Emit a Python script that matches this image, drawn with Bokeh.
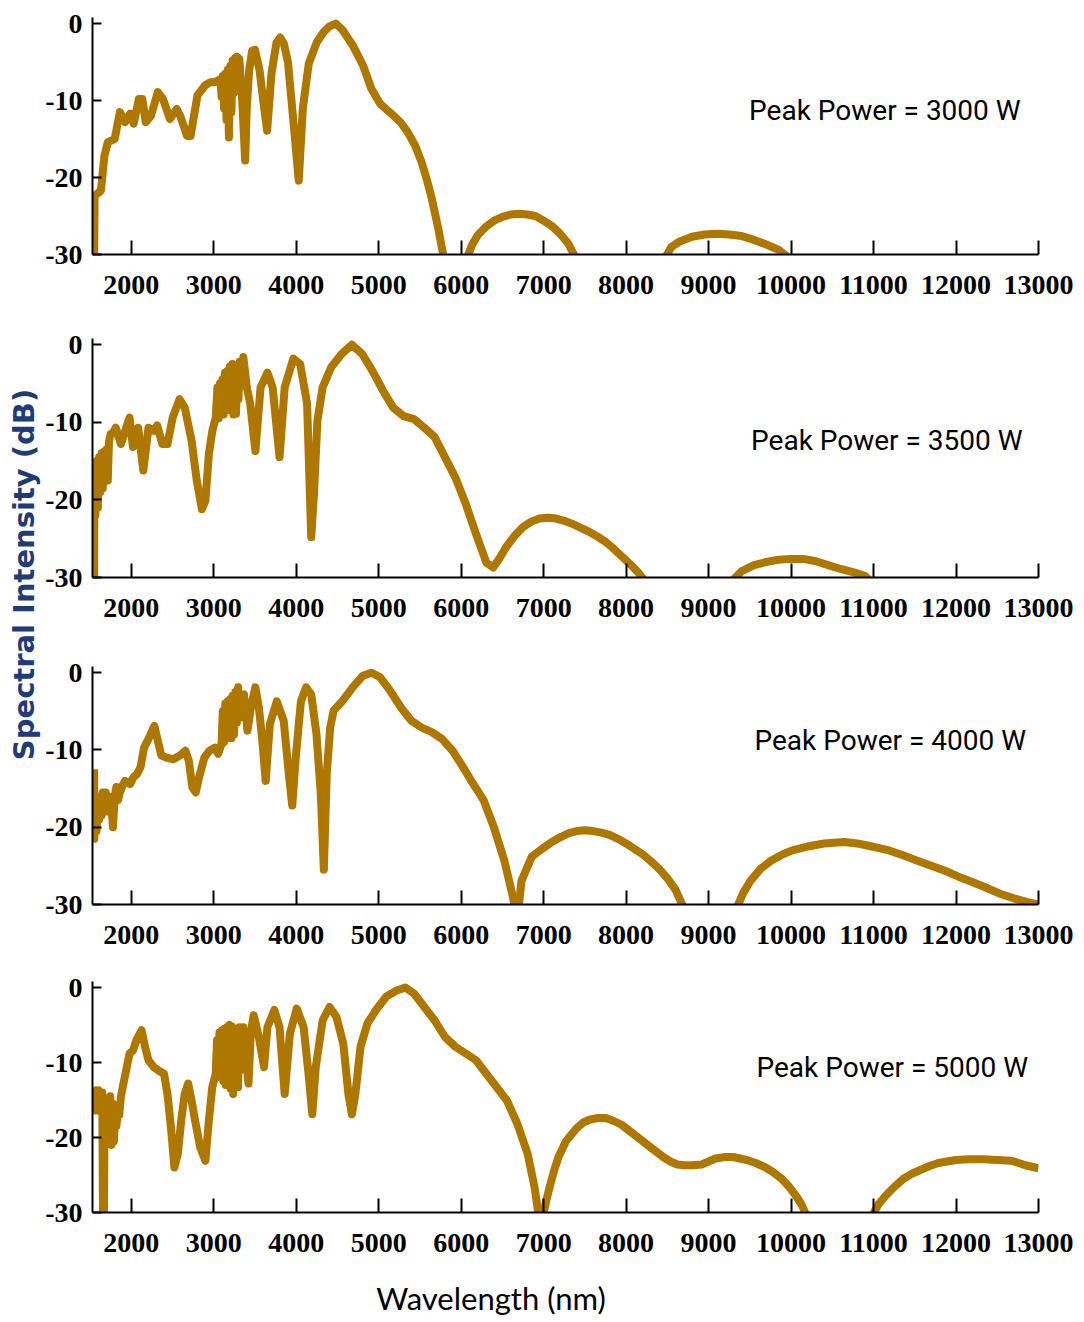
from math import pi
from bokeh.plotting import figure
from bokeh.layouts import column, row
from bokeh.models import Range1d, FixedTicker, Label
from bokeh.embed import file_html
from bokeh.resources import INLINE
from bokeh.core.properties import value

# ---------------- data ----------------
x_ticks = [2000, 3000, 4000, 5000, 6000, 7000, 8000, 9000, 10000, 11000, 12000, 13000]
y_ticks = [-30, -20, -10, 0]
y_tick_labels = {-30: "-30", -20: "-20", -10: "-10", 0: "0"}
powers = ["Peak Power = 3000 W", "Peak Power = 3500 W", "Peak Power = 4000 W", "Peak Power = 5000 W"]

wl_3000 = [
    1550, 1555, 1632, 1674, 1716, 1799, 1862, 1925, 1987, 2029,
    2092, 2134, 2176, 2238, 2322, 2385, 2468, 2552, 2594, 2677,
    2719, 2803, 2897, 2960, 3012, 3050, 3080, 3095, 3110, 3125,
    3140, 3155, 3170, 3184, 3200, 3215, 3230, 3245, 3260, 3283,
    3310, 3345, 3381, 3400, 3430, 3466, 3500, 3555, 3600, 3647,
    3700, 3760, 3805, 3850, 3900, 3960, 4031, 4080, 4152, 4250,
    4340, 4400, 4480, 4560, 4684, 4809, 4913, 5018, 5100, 5185,
    5270, 5352, 5440, 5520, 5590, 5645, 5720, 5790, 5940, 6070,
    6130, 6200, 6300, 6400, 6500, 6600, 6700, 6800, 6900, 7000,
    7100, 7200, 7300, 7390, 7900, 8470, 8550, 8650, 8800, 8950,
    9100, 9250, 9400, 9550, 9700, 9850, 9980, 10600, 13000]
db_3000 = [
    -31, -22.4, -21.7, -17.2, -15.4, -15.0, -11.5, -12.8, -11.7, -13.0,
    -9.8, -9.8, -12.8, -12.0, -8.9, -9.8, -12.4, -11.1, -12.0, -14.6,
    -14.6, -9.3, -8.0, -7.6, -7.6, -7.4, -7.2, -9.5, -6.8, -11.0,
    -6.5, -12.5, -6.0, -14.8, -5.5, -11.5, -4.8, -9.0, -4.4, -4.3,
    -4.6, -10.0, -17.8, -11.0, -6.0, -3.5, -3.4, -6.0, -10.0, -13.9,
    -6.5, -2.5, -1.8, -2.6, -5.0, -12.0, -20.4, -11.0, -5.2, -2.4,
    -1.0, -0.4, 0, -0.8, -2.8, -5.4, -8.5, -10.4, -11.2, -12.0,
    -12.9, -14.1, -15.8, -18.0, -20.5, -22.8, -26.5, -30.5, -50, -30.5,
    -28.8, -27.5, -26.4, -25.6, -25.1, -24.8, -24.7, -24.8, -25.0, -25.6,
    -26.3, -27.3, -28.6, -30.5, -50, -30.5, -29.0, -28.3, -27.7, -27.4,
    -27.3, -27.4, -27.6, -28.1, -28.7, -29.4, -30.5, -45, -45]

wl_3500 = [
    1550, 1552, 1565, 1580, 1595, 1610, 1625, 1640, 1655, 1670,
    1685, 1700, 1715, 1730, 1750, 1770, 1812, 1875, 1938, 1979,
    2021, 2084, 2146, 2209, 2272, 2314, 2376, 2439, 2502, 2585,
    2648, 2732, 2794, 2857, 2899, 2941, 2983, 3024, 3045, 3060,
    3075, 3090, 3105, 3120, 3135, 3150, 3165, 3180, 3195, 3210,
    3225, 3240, 3255, 3270, 3285, 3300, 3315, 3330, 3359, 3401,
    3442, 3505, 3568, 3651, 3714, 3798, 3860, 3965, 4048, 4132,
    4182, 4215, 4257, 4320, 4424, 4550, 4675, 4800, 4926, 5051,
    5176, 5302, 5428, 5553, 5678, 5804, 5929, 6055, 6180, 6306,
    6389, 6473, 6550, 6650, 6750, 6850, 6950, 7050, 7150, 7250,
    7350, 7450, 7550, 7650, 7750, 7850, 7950, 8050, 8150, 8230,
    8700, 9280, 9400, 9550, 9700, 9850, 10000, 10150, 10300, 10450,
    10600, 10750, 10900, 10960, 11800, 13000]
db_3500 = [
    -31, -19.0, -22.0, -15.0, -21.0, -14.5, -19.0, -14.0, -18.5, -13.8,
    -17.5, -13.5, -17.5, -12.5, -11.5, -11.5, -10.7, -12.8, -10.7, -9.4,
    -13.2, -10.7, -16.2, -10.7, -11.1, -10.4, -12.8, -12.8, -9.4, -7.0,
    -8.1, -12.4, -17.5, -21.2, -20.1, -14.1, -11.1, -9.4, -5.5, -9.5,
    -5.0, -9.0, -4.5, -9.0, -3.6, -8.5, -3.4, -8.3, -2.8, -8.5,
    -2.5, -9.0, -3.0, -8.9, -3.5, -7.0, -2.2, -4.5, -1.6, -5.5,
    -7.6, -13.7, -5.5, -3.6, -5.5, -14.5, -5.5, -1.8, -2.5, -7.6,
    -24.8, -19.3, -9.8, -5.5, -2.9, -1.2, 0, -1.2, -3.4, -5.9,
    -8.1, -9.2, -9.6, -10.7, -11.9, -14.5, -17.1, -20.5, -24.4, -28.1,
    -28.7, -27.4, -26.0, -24.6, -23.5, -22.8, -22.4, -22.3, -22.4, -22.7,
    -23.1, -23.6, -24.1, -24.7, -25.4, -26.3, -27.3, -28.3, -29.4, -30.5,
    -45, -30.5, -29.2, -28.4, -28.0, -27.7, -27.6, -27.6, -27.9, -28.4,
    -28.9, -29.3, -29.8, -30.5, -45, -45]

wl_4000 = [
    1550, 1552, 1565, 1580, 1595, 1610, 1625, 1640, 1655, 1674,
    1690, 1705, 1720, 1737, 1755, 1778, 1800, 1820, 1840, 1862,
    1900, 1925, 1987, 2029, 2071, 2113, 2155, 2217, 2280, 2322,
    2364, 2426, 2510, 2594, 2656, 2698, 2740, 2782, 2823, 2886,
    2949, 3012, 3054, 3095, 3110, 3125, 3140, 3155, 3170, 3185,
    3200, 3215, 3230, 3245, 3262, 3280, 3296, 3315, 3333, 3367,
    3409, 3451, 3505, 3547, 3589, 3630, 3680, 3764, 3848, 3910,
    3952, 3994, 4057, 4119, 4182, 4245, 4300, 4335, 4370, 4412,
    4454, 4558, 4684, 4809, 4913, 5018, 5143, 5269, 5394, 5520,
    5645, 5770, 5896, 6021, 6146, 6272, 6397, 6523, 6627, 6680,
    6732, 6857, 6980, 7100, 7200, 7300, 7400, 7500, 7600, 7700,
    7800, 7900, 8000, 8100, 8200, 8300, 8400, 8500, 8600, 8700,
    9000, 9340, 9420, 9510, 9630, 9762, 9900, 10014, 10200, 10400,
    10643, 10800, 10937, 11188, 11350, 11524, 11700, 11859, 12030, 12195,
    12360, 12531, 12700, 12866, 13000]
db_4000 = [
    -12.5, -21.5, -17.0, -20.5, -16.5, -19.0, -16.0, -18.5, -15.5, -18.0,
    -15.5, -17.5, -16.0, -18.0, -16.5, -20.0, -16.0, -14.8, -16.5, -15.5,
    -14.5, -14.0, -14.4, -13.5, -13.1, -12.2, -9.7, -8.4, -6.9, -8.8,
    -10.7, -11.0, -11.2, -10.7, -10.1, -11.4, -14.8, -15.5, -13.5, -11.0,
    -10.1, -9.7, -10.5, -9.2, -5.0, -9.0, -4.0, -8.5, -3.7, -8.4,
    -3.4, -8.5, -3.0, -8.0, -2.5, -6.5, -1.9, -5.8, -3.0, -2.8,
    -7.5, -4.5, -1.9, -4.5, -8.8, -14.0, -6.7, -3.7, -6.2, -13.1,
    -17.2, -11.0, -3.7, -1.9, -2.8, -7.9, -16.0, -25.5, -13.1, -7.1,
    -4.9, -3.7, -1.9, -0.4, 0, -0.6, -2.4, -4.5, -6.2, -7.1,
    -7.7, -8.6, -10.1, -12.2, -14.4, -16.5, -20.0, -24.3, -29.0, -32,
    -26.9, -23.8, -22.8, -21.9, -21.3, -20.8, -20.5, -20.4, -20.5, -20.7,
    -21.0, -21.5, -22.1, -22.8, -23.5, -24.4, -25.4, -26.6, -28.1, -30.5,
    -45, -30.5, -28.5, -26.9, -25.4, -24.3, -23.5, -23.0, -22.5, -22.1,
    -21.9, -22.1, -22.4, -23.0, -23.6, -24.3, -25.0, -25.6, -26.4, -27.1,
    -27.8, -28.6, -29.2, -29.7, -30.0]

wl_5000 = [
    1550, 1561, 1575, 1590, 1603, 1620, 1635, 1648, 1658, 1668,
    1678, 1695, 1710, 1728, 1745, 1760, 1775, 1790, 1805, 1820,
    1840, 1854, 1875, 1896, 1937, 1979, 2021, 2063, 2125, 2167,
    2209, 2272, 2334, 2397, 2439, 2481, 2523, 2564, 2606, 2648,
    2690, 2732, 2773, 2836, 2899, 2941, 2982, 3024, 3040, 3055,
    3070, 3085, 3100, 3115, 3130, 3145, 3160, 3175, 3190, 3205,
    3220, 3235, 3250, 3265, 3280, 3295, 3310, 3330, 3359, 3390,
    3421, 3450, 3484, 3547, 3610, 3651, 3735, 3798, 3860, 3923,
    4006, 4090, 4153, 4195, 4237, 4320, 4404, 4487, 4571, 4633,
    4675, 4717, 4780, 4863, 4968, 5093, 5219, 5323, 5428, 5553,
    5679, 5804, 5929, 6055, 6180, 6305, 6431, 6556, 6682, 6807,
    6891, 6960, 7030, 7080, 7130, 7180, 7270, 7397, 7480, 7565,
    7660, 7755, 7850, 7945, 8050, 8156, 8260, 8367, 8450, 8536,
    8620, 8705, 8800, 8916, 9000, 9085, 9200, 9296, 9380, 9464,
    9570, 9675, 9780, 9886, 9970, 10055, 10130, 10190, 10600, 10980,
    11060, 11152, 11260, 11363, 11470, 11574, 11680, 11785, 11890, 11996,
    12160, 12334, 12500, 12671, 12760, 12840, 12920, 13000]
db_5000 = [
    -15.1, -16.4, -13.7, -16.0, -13.7, -16.5, -14.0, -14.0, -31, -31,
    -15.0, -17.5, -15.0, -16.5, -14.5, -21.0, -15.5, -20.5, -16.0, -18.5,
    -16.0, -17.0, -14.5, -13.3, -11.1, -8.8, -8.4, -7.0, -5.7, -7.9,
    -9.7, -10.6, -11.1, -11.5, -14.2, -18.6, -24.0, -22.2, -17.7, -14.2,
    -12.8, -15.1, -17.7, -21.3, -23.1, -17.7, -13.3, -11.5, -7.0, -11.5,
    -6.0, -12.0, -5.7, -12.5, -5.5, -13.0, -5.3, -12.0, -5.0, -13.5,
    -5.2, -14.2, -5.5, -11.5, -5.5, -13.3, -5.3, -11.0, -5.3, -9.0,
    -12.8, -6.0, -3.7, -6.6, -10.6, -5.3, -3.0, -5.3, -14.2, -6.2,
    -2.8, -5.3, -11.9, -16.9, -10.6, -4.4, -2.6, -3.9, -7.5, -14.2,
    -16.9, -14.2, -7.9, -4.8, -3.0, -1.2, -0.4, 0, -0.8, -2.6,
    -4.4, -6.6, -7.9, -8.8, -9.7, -11.5, -13.3, -15.1, -18.2, -22.2,
    -26.7, -32, -28.5, -26.3, -24.3, -22.6, -20.5, -18.8, -18.0, -17.6,
    -17.4, -17.4, -17.8, -18.3, -19.2, -20.1, -21.0, -21.9, -22.6, -23.2,
    -23.6, -23.7, -23.7, -23.6, -23.2, -22.8, -22.6, -22.6, -22.8, -23.0,
    -23.4, -23.9, -24.6, -25.5, -26.5, -27.7, -29.0, -30.5, -45, -30.5,
    -28.9, -27.7, -26.5, -25.5, -24.8, -24.3, -23.8, -23.4, -23.2, -23.0,
    -22.9, -22.9, -23.0, -23.1, -23.4, -23.7, -23.9, -24.1]

# ---------------- styling / layout ----------------
LINE = "#AD7700"
LABEL_W = 42
PW = 1084 - LABEL_W
X0, X1 = 1530, 13000


def panel(wl, db, text, height, top, bottom, tx, ty):
    assert len(wl) == len(db)
    p = figure(width=PW, height=height, x_range=Range1d(X0, X1), y_range=Range1d(-30, 0.8),
               output_backend="svg", toolbar_location=None, title=None,
               min_border_left=90 - LABEL_W, min_border_right=46,
               min_border_top=top, min_border_bottom=bottom)
    p.line(wl, db, line_color=LINE, line_width=8, line_join="round")
    p.grid.visible = False
    p.outline_line_color = None
    p.background_fill_color = "white"
    p.border_fill_color = "white"
    p.xaxis.ticker = FixedTicker(ticks=x_ticks)
    p.yaxis.ticker = FixedTicker(ticks=y_ticks)
    p.yaxis.major_label_overrides = y_tick_labels
    for ax in (p.xaxis[0], p.yaxis[0]):
        ax.axis_line_width = 2
        ax.axis_line_color = "black"
        ax.major_tick_line_width = 2
        ax.major_tick_line_color = "black"
        ax.major_tick_out = 0
        ax.minor_tick_line_color = None
        ax.major_label_text_font = "Liberation Serif"
        ax.major_label_text_font_style = "bold"
        ax.major_label_text_font_size = "28px"
        ax.major_label_text_color = "black"
    p.xaxis.major_tick_in = 14
    p.xaxis.major_label_standoff = 21
    p.yaxis.major_tick_in = 9
    p.yaxis.major_label_standoff = 10
    p.add_layout(Label(x=tx, y=ty, text=text, text_align="center", text_baseline="middle",
                       text_font="Roboto", text_font_size="28px", text_color="black"))
    return p


p1 = panel(wl_3000, db_3000, powers[0], 320, 17, 66, 11137, -11.3)
p2 = panel(wl_3500, db_3500, powers[1], 325, 18, 68, 11161, -12.4)
p3 = panel(wl_4000, db_4000, powers[2], 315, 21, 56, 11203, -8.8)
p4 = panel(wl_5000, db_5000, powers[3], 320, 21, 68, 11227, -10.7)

xl = figure(width=PW, height=42, x_range=Range1d(0, PW), y_range=Range1d(0, 42),
            output_backend="svg", toolbar_location=None, title=None, min_border=0,
            x_axis_location=None, y_axis_location=None)
xl.grid.visible = False
xl.outline_line_color = None
xl.text(x=[439], y=[25], text=["Wavelength (nm)"], text_align="center", text_baseline="middle",
        text_font=value("Lato"), text_font_size="31px", text_color="black")

yl = figure(width=LABEL_W, height=1322, x_range=Range1d(0, LABEL_W), y_range=Range1d(0, 1322),
            output_backend="svg", toolbar_location=None, title=None, min_border=0,
            x_axis_location=None, y_axis_location=None)
yl.grid.visible = False
yl.outline_line_color = None
yl.text(x=[23], y=[748], text=["Spectral Intensity (dB)"], angle=pi / 2,
        text_align="center", text_baseline="middle",
        text_font=value("DejaVu Sans"), text_font_style="bold", text_font_size="29px",
        text_color="#1F3B78")

layout = row(yl, column(p1, p2, p3, p4, xl, spacing=0), spacing=0)

with open("out.html", "w") as f:
    f.write(file_html(layout, INLINE))
